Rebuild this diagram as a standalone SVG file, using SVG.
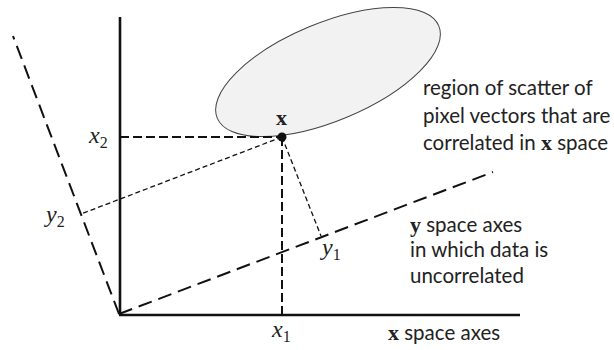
<svg xmlns="http://www.w3.org/2000/svg" width="614" height="350" viewBox="0 0 614 350">
<style>
.axis{stroke:#111;stroke-width:2.6;fill:none}
.yax{stroke:#111;stroke-width:2;stroke-dasharray:14 7;fill:none}
.xproj{stroke:#111;stroke-width:2;stroke-dasharray:9 4;fill:none}
.yproj{stroke:#111;stroke-width:1.3;stroke-dasharray:5 3;fill:none}
.lbl{font-family:Lato,"Liberation Sans",sans-serif;font-size:20.5px;fill:#222}
.math{font-family:"Liberation Serif",serif;font-style:italic;font-size:24px;fill:#222}
.sub{font-family:"Liberation Serif",serif;font-size:16px;fill:#222}
.bold{font-family:"Liberation Serif",serif;font-weight:bold;font-size:22px;fill:#222}
</style>
<rect width="614" height="350" fill="#fff"/>
<g id="scatter">
<ellipse cx="328" cy="72" rx="120" ry="49" transform="rotate(-22.6 328 72)" fill="#f2f2f2" stroke="#444" stroke-width="1"/>
</g>
<g id="connectors">
<line class="axis" x1="120" y1="17" x2="120" y2="315"/>
<line class="axis" x1="119" y1="315" x2="520" y2="315"/>
<line class="yax" x1="119" y1="314" x2="13" y2="36"/>
<line class="yax" x1="119" y1="314" x2="493" y2="172"/>
<line class="xproj" x1="120" y1="137" x2="282" y2="137"/>
<line class="xproj" x1="282" y1="137" x2="282" y2="315"/>
<line class="yproj" x1="282" y1="137" x2="81" y2="214"/>
<line class="yproj" x1="282" y1="137" x2="321" y2="236"/>
</g>
<g id="point-x">
<circle cx="282" cy="137" r="4.5" fill="#111"/>
<text class="bold" x="276" y="125">x</text>
</g>
<g id="labels">
<text class="math" x="89" y="143">x<tspan class="sub" font-style="normal" dy="5">2</tspan></text>
<text class="math" x="46" y="222">y<tspan class="sub" font-style="normal" dy="5">2</tspan></text>
<text class="math" x="272" y="337">x<tspan class="sub" font-style="normal" dy="5">1</tspan></text>
<text class="math" x="322" y="255">y<tspan class="sub" font-style="normal" dy="5">1</tspan></text>
</g>
<g id="note-scatter">
<text class="lbl" x="423" y="95">region of scatter of</text>
<text class="lbl" x="423" y="123">pixel vectors that are</text>
<text class="lbl" x="423" y="150">correlated in <tspan class="bold">x</tspan> space</text>
</g>
<g id="note-y">
<text class="lbl" x="410" y="232"><tspan class="bold">y</tspan> space axes</text>
<text class="lbl" x="410" y="257">in which data is</text>
<text class="lbl" x="410" y="283">uncorrelated</text>
</g>
<g id="note-x">
<text class="lbl" x="388" y="340"><tspan class="bold">x</tspan> space axes</text>
</g>
</svg>
